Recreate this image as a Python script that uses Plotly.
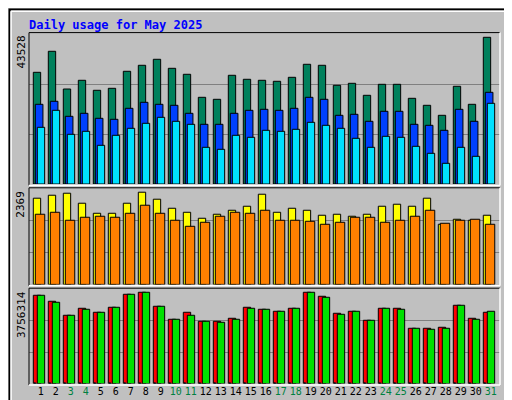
import plotly.graph_objects as go

days = list(range(1, 32))
day_labels = [str(d) for d in days]
weekend = {3, 4, 10, 11, 17, 18, 24, 25, 31}

hits = [32415,38510,27569,30094,27192,27772,32706,34447,36188,33576,31835,25160,24580,31545,30384,30094,29804,30964,34737,34447,28643,29223,25741,28933,28933,24870,22839,19937,28353,23129,42572]
files = [23129,24000,19646,20517,19066,18776,21968,23709,23129,22839,20517,17325,17325,20517,21388,21678,21388,21968,25160,24580,19937,20227,18196,21098,21098,17325,17035,15584,21678,18196,26611]
pages = [16454,21388,14423,15293,11231,14133,16164,17615,19356,18196,17325,10650,10070,14133,13552,15584,15293,15874,17905,17035,16164,13262,10650,13843,13552,10941,8909,6007,10650,8039,23419]
visits = [2145,2219,2269,2020,1770,1770,2020,2294,2120,1895,1795,1646,1746,1845,1945,2244,1795,1895,1845,1721,1746,1696,1746,1945,1995,1945,2145,1496,1621,1596,1721]
sites = [1746,1795,1596,1671,1696,1671,1770,1970,1770,1596,1446,1546,1696,1795,1770,1845,1596,1596,1571,1496,1546,1671,1671,1546,1596,1696,1845,1521,1596,1621,1496]
kb_f = [3529800,3290040,2730600,3010320,2850480,3050280,3569760,3649680,3090240,2570760,2850480,2490840,2490840,2610720,3050280,2970360,2890440,3010320,3649680,3489840,2810520,2890440,2530800,3010320,3010320,2211120,2211120,2251080,3130200,2610720,2850480]
kb_in = [3529800,3250080,2730600,2970360,2850480,3050280,3569760,3649680,3090240,2570760,2730600,2490840,2450880,2570760,3010320,2970360,2890440,3010320,3649680,3449880,2770560,2890440,2530800,3010320,2970360,2211120,2171160,2211120,3130200,2570760,2890440]
kb_out = [30000]*31

max_hits, max_visits, max_kb = 43528, 2369, 3756314

fig = go.Figure()
def bar(y, color, off, w, ax):
    fig.add_trace(go.Bar(x=days, y=y, marker=dict(color=color, line=dict(color="black", width=1)),
                         offset=off, width=w, xaxis="x" + ax, yaxis="y" + ax, showlegend=False))

bar(hits, "#00805C", -0.5, 0.49, "")
bar(files, "#0040FF", -0.367, 0.51, "")
bar(pages, "#00E0FF", -0.233, 0.49, "")
bar(visits, "#FFFF00", -0.5, 0.49, "2")
bar(sites, "#FF8000", -0.367, 0.63, "2")
bar(kb_f, "#FF0000", -0.5, 0.49, "3")
bar(kb_out, "#0080FF", -0.45, 0.1, "3")
bar(kb_in, "#00E000", -0.233, 0.49, "3")

xr = [0.213, 31.613]
xd = [21/512, 492/512]
mono = "DejaVu Sans Mono"
common_x = dict(range=xr, domain=xd, showgrid=False, zeroline=False, showline=False, automargin=False)
ticktext = [f'<span style="color:{"#008040" if d in weekend else "black"}">{d}</span>' for d in days]
fig.update_layout(
    width=512, height=400, margin=dict(l=0, r=0, t=0, b=0, autoexpand=False),
    paper_bgcolor="#C0C0C0", plot_bgcolor="#C0C0C0", barmode="overlay",
    font=dict(family=mono, size=11, color="black"),
    xaxis=dict(**common_x, anchor="y", showticklabels=False),
    xaxis2=dict(**common_x, anchor="y2", showticklabels=False),
    xaxis3=dict(**common_x, anchor="y3", tickvals=days, ticktext=ticktext, ticks="", tickangle=0,
                ticklabelstandoff=0, tickfont=dict(family=mono, size=10)),
)
for ax, mx, dom in [("yaxis", max_hits, [0.56, 0.935]), ("yaxis2", max_visits, [0.309, 0.547]),
                    ("yaxis3", max_kb, [0.061, 0.296])]:
    fig.layout[ax] = dict(range=[0, mx], domain=dom, tickvals=[mx/3, 2*mx/3], showticklabels=False,
                          gridcolor="#808080", gridwidth=1, zeroline=False, showline=False, automargin=False)

shapes = []
panels = [(0.935, 0.56), (0.547, 0.309), (0.296, 0.061)]
for top, bot in panels:
    t, b = top + 0.0035, bot - 0.0035
    l, r = xd[0], xd[1]
    shapes += [dict(type="line", xref="paper", yref="paper", x0=l, x1=r, y0=t, y1=t, line=dict(color="black", width=1)),
               dict(type="line", xref="paper", yref="paper", x0=l, x1=l, y0=b, y1=t, line=dict(color="black", width=1)),
               dict(type="line", xref="paper", yref="paper", x0=l, x1=r, y0=b, y1=b, line=dict(color="white", width=1.5)),
               dict(type="line", xref="paper", yref="paper", x0=r, x1=r, y0=b, y1=t, line=dict(color="white", width=1.5))]
shapes += [dict(type="rect", xref="paper", yref="paper", x0=0.003, x1=0.997, y0=0.004, y1=0.996, line=dict(color="black", width=2)),
           dict(type="line", xref="paper", yref="paper", x0=0.006, x1=0.994, y0=0.992, y1=0.992, line=dict(color="white", width=1.5)),
           dict(type="line", xref="paper", yref="paper", x0=0.006, x1=0.006, y0=0.01, y1=0.992, line=dict(color="white", width=1.5)),
           dict(type="line", xref="paper", yref="paper", x0=0.006, x1=0.994, y0=0.01, y1=0.01, line=dict(color="#808080", width=2)),
           dict(type="line", xref="paper", yref="paper", x0=0.994, x1=0.994, y0=0.01, y1=0.992, line=dict(color="#808080", width=2))]
fig.update_layout(shapes=shapes)

ann = [dict(text="<b>Daily usage for May 2025</b>", x=19/512, y=1-8/400, xref="paper", yref="paper",
            xanchor="left", yanchor="top", showarrow=False, font=dict(family=mono, size=12, color="#0000FF"))]
for yax, mx, lbl in [("y", max_hits, "43528"), ("y2", max_visits, "2369"), ("y3", max_kb, "3756314")]:
    ann.append(dict(text=lbl, x=13/512, y=mx, xref="paper", yref=yax, textangle=-90, xanchor="center",
                    yanchor="top", showarrow=False, font=dict(family=mono, size=11)))
right_top = '<span style="color:#00E0FF">Pages</span> / <span style="color:#0040FF">Files</span> / <span style="color:#00805C">Hits</span>'
right_mid = '<span style="color:#FF8000">Sites</span> / <span style="color:#E0E000">Visits</span>'
right_bot = '<span style="color:#FF0000">kB F</span> / <span style="color:#0080FF">kB In</span> / <span style="color:#00C000">kB Out</span>'
ann.append(dict(text=right_top, x=501/512, y=1-25/400, xref="paper", yref="paper", textangle=-90,
                xanchor="center", yanchor="top", showarrow=False, font=dict(family=mono, size=11, color="black")))
ann.append(dict(text=right_mid, x=501/512, y=1-178/400, xref="paper", yref="paper", textangle=-90,
                xanchor="center", yanchor="top", showarrow=False, font=dict(family=mono, size=11, color="black")))
ann.append(dict(text=right_bot, x=501/512, y=1-378/400, xref="paper", yref="paper", textangle=-90,
                xanchor="center", yanchor="bottom", showarrow=False, font=dict(family=mono, size=11, color="black")))
fig.update_layout(annotations=ann)
fig.write_html("out.html")
